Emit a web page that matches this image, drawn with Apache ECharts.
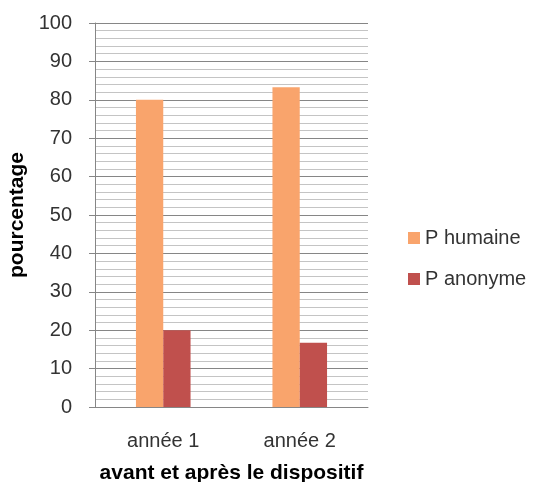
<!DOCTYPE html>
<html><head><meta charset="utf-8">
<script src="https://cdn.jsdelivr.net/npm/echarts@6/dist/echarts.min.js"></script>
<style>html,body{margin:0;padding:0;background:#fff}#c{width:533px;height:482px}</style>
</head><body><div id="c"></div>
<script>
var categories = ["année 1", "année 2"];
var pHumaine = [80, 83.3];
var pAnonyme = [20, 16.7];
var seriesNames = ["P humaine", "P anonyme"];
var yMin = 0, yMax = 100, yInterval = 10;

var FONT = "Liberation Sans";
var TXT = '#333333';
var chart = echarts.init(document.getElementById('c'));
chart.setOption({
  animation: false,
  textStyle: {fontFamily: FONT},
  grid: {left: 95, right: 165, top: 23, bottom: 75, outerBoundsMode: 'none', containLabel: false},
  legend: {
    orient: 'vertical', left: 403, top: 223, itemWidth: 12, itemHeight: 12, itemGap: 21,
    icon: 'rect',
    textStyle: {fontSize: 20, color: TXT, fontFamily: FONT},
    data: seriesNames
  },
  xAxis: {
    type: 'category', data: categories,
    axisLine: {lineStyle: {color: '#868686'}},
    axisTick: {show: false},
    axisLabel: {fontSize: 20, color: TXT, margin: 24, fontFamily: FONT},
    name: 'avant et après le dispositif', nameLocation: 'middle', nameGap: 56,
    nameTextStyle: {fontSize: 21, fontWeight: 'bold', color: '#000', fontFamily: FONT}
  },
  yAxis: {
    type: 'value', min: yMin, max: yMax, interval: yInterval,
    axisLine: {show: true, lineStyle: {color: '#868686'}},
    axisTick: {show: true, length: 6, lineStyle: {color: '#868686'}},
    minorTick: {show: false, splitNumber: 5},
    axisLabel: {fontSize: 20, color: TXT, margin: 23, fontFamily: FONT},
    splitLine: {lineStyle: {color: '#868686', width: 1}},
    minorSplitLine: {show: true, lineStyle: {color: '#c4c4c4', width: 1}},
    name: 'pourcentage', nameLocation: 'middle', nameGap: 61, nameRotate: 90,
    nameTextStyle: {fontSize: 21, fontWeight: 'bold', color: '#000', fontFamily: FONT}
  },
  series: [
    {name: seriesNames[0], type: 'bar', data: pHumaine, barWidth: '20%', barGap: '0%',
     itemStyle: {color: '#F9A46C'}},
    {name: seriesNames[1], type: 'bar', data: pAnonyme, barWidth: '20%', barGap: '0%',
     itemStyle: {color: '#C0504D'}}
  ]
});
</script></body></html>
